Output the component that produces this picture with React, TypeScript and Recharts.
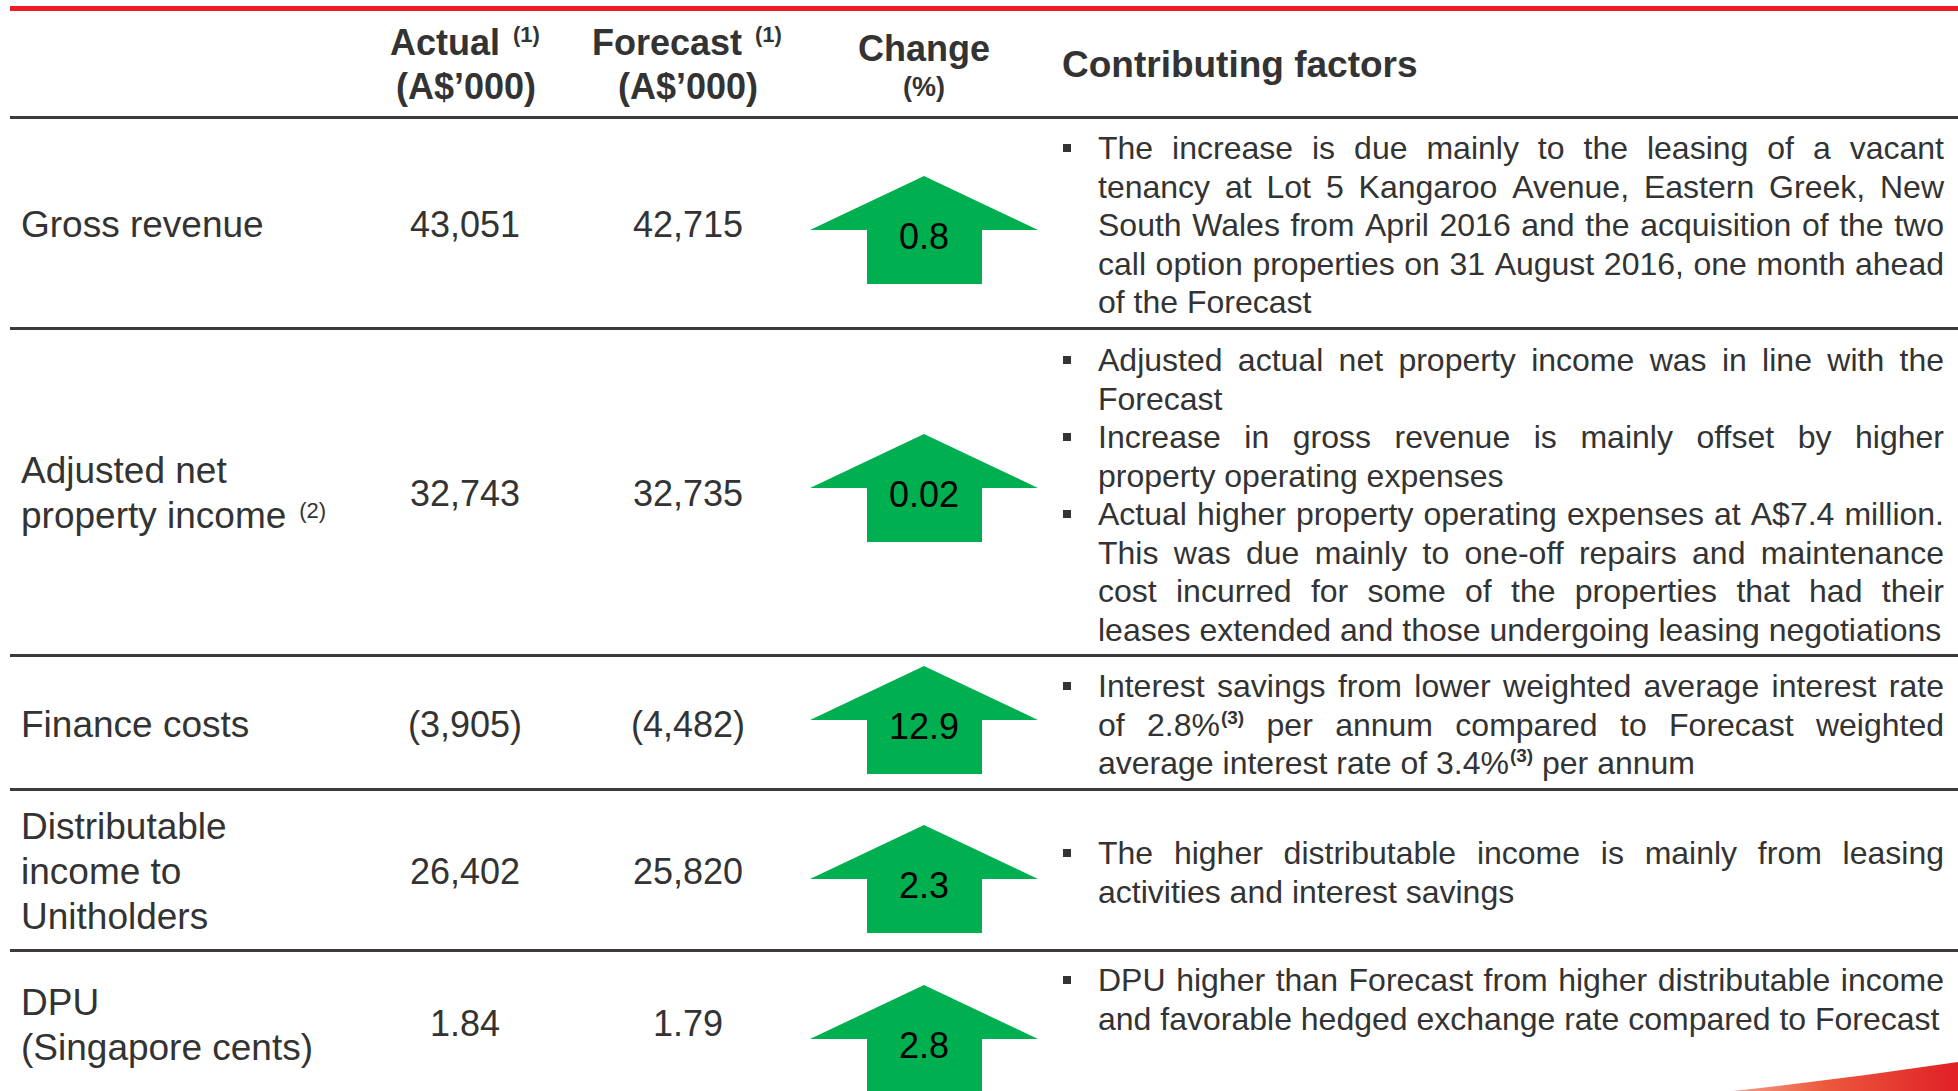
import React from 'react';
import { ComposedChart, Scatter, XAxis, YAxis, ReferenceArea } from 'recharts';

// ---- table data ----
const headerTitles = ['Actual', 'Forecast', 'Change', 'Contributing factors'];
const headerUnits = ["(A$\u2019000)", "(A$\u2019000)", '(%)'];
const rowLabels = [
  ['Gross revenue'],
  ['Adjusted net', 'property income'],
  ['Finance costs'],
  ['Distributable', 'income to', 'Unitholders'],
  ['DPU', '(Singapore cents)'],
];
const labelNotes = ['', '(2)', '', '', ''];
const actualValues = ['43,051', '32,743', '(3,905)', '26,402', '1.84'];
const forecastValues = ['42,715', '32,735', '(4,482)', '25,820', '1.79'];
const changeValues = ['0.8', '0.02', '12.9', '2.3', '2.8'];
// each row: list of bullets, each bullet: list of lines ("^" marks a superscript)
const factors = [
  [[
    'The increase is due mainly to the leasing of a vacant',
    'tenancy at Lot 5 Kangaroo Avenue, Eastern Greek, New',
    'South Wales from April 2016 and the acquisition of the two',
    'call option properties on 31 August 2016, one month ahead',
    'of the Forecast',
  ]],
  [
    ['Adjusted actual net property income was in line with the', 'Forecast'],
    ['Increase in gross revenue is mainly offset by higher', 'property operating expenses'],
    [
      'Actual higher property operating expenses at A$7.4 million.',
      'This was due mainly to one-off repairs and maintenance',
      'cost incurred for some of the properties that had their',
      'leases extended and those undergoing leasing negotiations',
    ],
  ],
  [[
    'Interest savings from lower weighted average interest rate',
    'of 2.8%^(3) per annum compared to Forecast weighted',
    'average interest rate of 3.4%^(3) per annum',
  ]],
  [['The higher distributable income is mainly from leasing', 'activities and interest savings']],
  [['DPU higher than Forecast from higher distributable income', 'and favorable hedged exchange rate compared to Forecast']],
];

// ---- layout (pixels) ----
const W = 1958;
const H = 1091;
const FONT = "'Liberation Sans', Arial, sans-serif";
const INK = '#333333';
const LABEL_X = 21;
const ACTUAL_X = 465;
const FORECAST_X = 688;
const CHANGE_X = 924;
const BULLET_X = 1063;
const TEXT_X = 1098;
const TEXT_RIGHT = 1944;
const LINE_PITCH = 38.5;
const dividerYs = [116, 327, 654, 788, 949];
const labelBaselines = [[237], [483, 528], [737], [839, 884, 929], [1015, 1060]];
const valueBaselines = [237, 506, 737, 884, 1036];
const arrowTips = [176, 434, 666, 825, 985];
const factorTops = [159, 371, 697, 864, 991];

let ctx: CanvasRenderingContext2D | null = null;
function measure(text: string, size: number, weight = 'normal') {
  if (!ctx) ctx = document.createElement('canvas').getContext('2d');
  if (!ctx) return text.length * size * 0.5;
  ctx.font = `${weight} ${size}px ${FONT}`;
  return ctx.measureText(text).width;
}

// text cells (header, labels, numbers)
type Cell = { x: number; y: number; text: string; size: number; bold?: boolean; anchor?: string; fill?: string };
const cells: Cell[] = [
  { x: 390, y: 55, text: headerTitles[0], size: 36, bold: true },
  { x: 513, y: 42, text: '(1)', size: 22, bold: true },
  { x: ACTUAL_X + 1, y: 99, text: headerUnits[0], size: 36, bold: true, anchor: 'middle' },
  { x: 592, y: 55, text: headerTitles[1], size: 36, bold: true },
  { x: 755, y: 42, text: '(1)', size: 22, bold: true },
  { x: FORECAST_X, y: 99, text: headerUnits[1], size: 36, bold: true, anchor: 'middle' },
  { x: CHANGE_X, y: 61, text: headerTitles[2], size: 36, bold: true, anchor: 'middle' },
  { x: CHANGE_X, y: 96, text: headerUnits[2], size: 27, bold: true, anchor: 'middle' },
  { x: 1062, y: 77, text: headerTitles[3], size: 37, bold: true },
];
rowLabels.forEach((lines, i) => {
  lines.forEach((t, j) => cells.push({ x: LABEL_X, y: labelBaselines[i][j], text: t, size: 37 }));
  if (labelNotes[i]) {
    const last = lines.length - 1;
    const w = measure(lines[last], 37);
    cells.push({ x: LABEL_X + w + 13, y: labelBaselines[i][last] - 10, text: labelNotes[i], size: 22 });
  }
  cells.push({ x: ACTUAL_X, y: valueBaselines[i], text: actualValues[i], size: 36, anchor: 'middle' });
  cells.push({ x: FORECAST_X, y: valueBaselines[i], text: forecastValues[i], size: 36, anchor: 'middle' });
});

const arrows = changeValues.map((v, i) => ({ x: CHANGE_X, y: arrowTips[i] + 54, label: v }));

type Line = { x: number; y: number; text: string; justify: boolean; bullet: boolean };
const factorLines: Line[] = [];
factors.forEach((bullets, i) => {
  let k = 0;
  bullets.forEach((lines) => {
    lines.forEach((t, j) => {
      factorLines.push({ x: TEXT_X, y: factorTops[i] + k * LINE_PITCH, text: t, justify: j < lines.length - 1, bullet: j === 0 });
      k += 1;
    });
  });
});

const BODY = 32;
const SUP = 19;

function tokenWidth(tok: string) {
  const [main, sup] = tok.split('^');
  return measure(main, BODY) + (sup ? measure(sup, SUP, 'bold') + 1 : 0);
}

const CellShape = (p: any) => {
  const c: Cell = p.payload;
  return (
    <text x={p.cx} y={p.cy} fontSize={c.size} fontWeight={c.bold ? 'bold' : 'normal'} textAnchor={c.anchor || 'start'}
      fill={c.fill || INK} fontFamily={FONT}>{c.text}</text>
  );
};

const ArrowShape = (p: any) => {
  const { cx, cy } = p;
  const pts = [
    [cx, cy - 54], [cx + 114, cy], [cx + 58, cy], [cx + 58, cy + 54],
    [cx - 57, cy + 54], [cx - 57, cy], [cx - 114, cy],
  ].map((q) => q.join(',')).join(' ');
  return (
    <g>
      <polygon points={pts} fill="#00b050" />
      <text x={cx} y={cy + 19} textAnchor="middle" fontSize={36} fill="#000" fontFamily={FONT}>{p.payload.label}</text>
    </g>
  );
};

const LineShape = (p: any) => {
  const l: Line = p.payload;
  const toks = l.text.split(' ');
  const widths = toks.map(tokenWidth);
  const total = widths.reduce((a, b) => a + b, 0);
  const gap = l.justify && toks.length > 1 ? (TEXT_RIGHT - p.cx - total) / (toks.length - 1) : measure(' ', BODY);
  let x = p.cx;
  return (
    <g fontFamily={FONT} fill={INK}>
      {l.bullet && <rect x={BULLET_X} y={p.cy - 15} width={8} height={8} fill={INK} />}
      {toks.map((tok, i) => {
        const [main, sup] = tok.split('^');
        const el = (
          <text key={i} x={x} y={p.cy} fontSize={BODY}>
            {main}
            {sup && <tspan fontSize={SUP} fontWeight="bold" dx={1} dy={-12}>{sup}</tspan>}
          </text>
        );
        x += widths[i] + gap;
        return el;
      })}
    </g>
  );
};

const Swoosh = (p: any) => {
  const { x, y, width, height } = p;
  const b = y + height;
  const d = `M${x},${b} Q${x + width * 0.5},${b - height * 0.42} ${x + width},${y} L${x + width},${b} Z`;
  return (
    <g>
      <defs>
        <linearGradient id="swoosh" x1="0" y1="0" x2="1" y2="0">
          <stop offset="0%" stopColor="#f3a08a" />
          <stop offset="40%" stopColor="#ec5a3c" />
          <stop offset="100%" stopColor="#e11f26" />
        </linearGradient>
      </defs>
      <path d={d} fill="url(#swoosh)" />
    </g>
  );
};

export default function App() {
  return (
    <div style={{ position: 'absolute', left: 0, top: 0, width: W, height: H, background: '#fff' }}>
      <ComposedChart width={W} height={H} margin={{ top: 0, right: 0, bottom: 0, left: 0 }}>
        <XAxis type="number" dataKey="x" domain={[0, W]} hide allowDataOverflow />
        <YAxis type="number" dataKey="y" domain={[0, H]} reversed hide allowDataOverflow />
        <ReferenceArea x1={10} x2={W} y1={6} y2={11} fill="#ed1c24" fillOpacity={1} stroke="none" />
        {dividerYs.map((y) => (
          <ReferenceArea key={y} x1={10} x2={W} y1={y} y2={y + 3} fill="#3d3a39" fillOpacity={1} stroke="none" />
        ))}
        <ReferenceArea x1={1733} x2={W} y1={1062} y2={H} shape={Swoosh} ifOverflow="visible" />
        <Scatter data={cells} shape={CellShape} isAnimationActive={false} />
        <Scatter data={factorLines} shape={LineShape} isAnimationActive={false} />
        <Scatter data={arrows} shape={ArrowShape} isAnimationActive={false} />
      </ComposedChart>
    </div>
  );
}
